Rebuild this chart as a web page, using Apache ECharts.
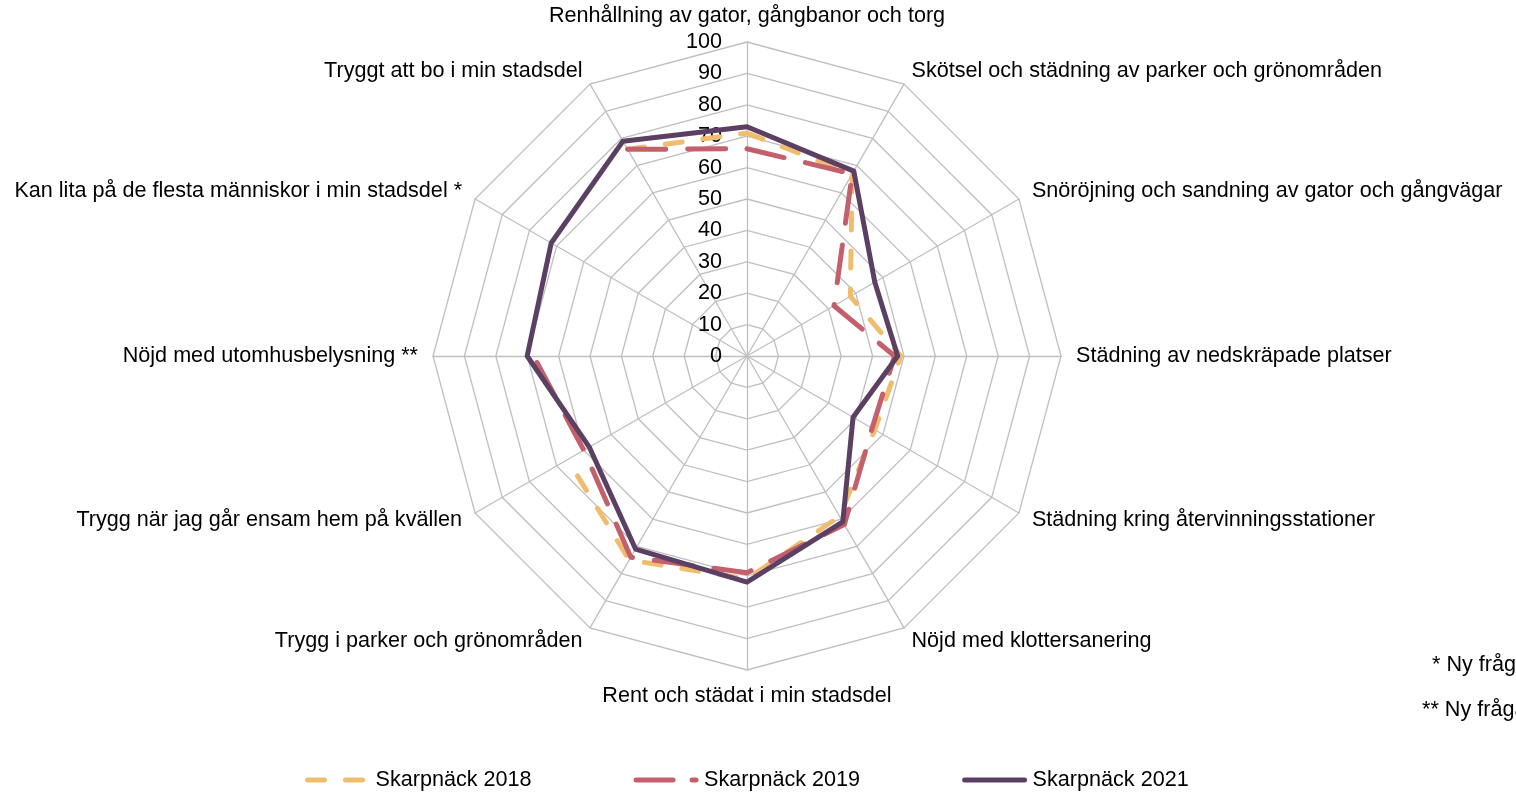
<!DOCTYPE html>
<html>
<head>
<meta charset="utf-8">
<script src="https://cdn.jsdelivr.net/npm/echarts@6/dist/echarts.min.js"></script>
<style>
html,body{margin:0;padding:0;background:#fff;}
#chart{width:1516px;height:792px;}
</style>
</head>
<body>
<div id="chart"></div>
<script>
// Indicators, clockwise from top
const categories = [
  'Renhållning av gator, gångbanor och torg',
  'Skötsel och städning av parker och grönområden',
  'Snöröjning och sandning av gator och gångvägar',
  'Städning av nedskräpade platser',
  'Städning kring återvinningsstationer',
  'Nöjd med klottersanering',
  'Rent och städat i min stadsdel',
  'Trygg i parker och grönområden',
  'Trygg när jag går ensam hem på kvällen',
  'Nöjd med utomhusbelysning **',
  'Kan lita på de flesta människor i min stadsdel *',
  'Tryggt att bo i min stadsdel'
];
const seriesNames = ['Skarpnäck 2018', 'Skarpnäck 2019', 'Skarpnäck 2021'];
const values2018 = [71, 67, 38, 49, 47, 59, 71, 75, 66, null, null, 76];
const values2019 = [66, 67, 32, 47, 46, 62, 69, 74, 60, 68, null, 76];
const values2021 = [73, 68, 47, 48, 39, 61, 72, 71, 58, 70, 72, 79];
const axisMin = 0, axisMax = 100, axisStep = 10;
const notes = ['* Ny fråga 2021', '** Ny fråga 2019'];

const FONT = 'Liberation Sans, Arial, sans-serif';
const FS = 21.6;
const CENTER = [747, 356];
const RADIUS = 314;
const n = categories.length;
const colors = ['#EFBD6D', '#C4606B', '#5C4063'];
const dashes = [[17, 21], [38, 22], 'solid'];
const legendDashes = [[17, 21], [37, 19], 'solid'];
const LW = 5;

// radar draws counter-clockwise: reorder so the grid reads clockwise
const radarIndicators = [categories[0]].concat(categories.slice(1).reverse())
  .map(name => ({ name: name, min: axisMin, max: axisMax }));

function toPolar(vals) {
  const out = vals.map((v, i) => [v === null ? '-' : v, i * 360 / n]);
  out.push([vals[0] === null ? '-' : vals[0], 360]);
  return out;
}

const allValues = [values2018, values2019, values2021];

const chart = echarts.init(document.getElementById('chart'), null, { renderer: 'canvas' });
chart.setOption({
  animation: false,
  backgroundColor: '#ffffff',
  textStyle: { fontFamily: FONT },
  radar: {
    center: CENTER,
    radius: RADIUS,
    startAngle: 90,
    shape: 'polygon',
    splitNumber: (axisMax - axisMin) / axisStep,
    indicator: radarIndicators,
    nameGap: 15,
    axisName: { color: '#000', fontSize: FS, fontFamily: FONT },
    axisLine: { lineStyle: { color: '#BFBFBF', width: 1.3 } },
    splitLine: { lineStyle: { color: '#BFBFBF', width: 1.3 } },
    splitArea: { show: false },
    axisTick: { show: false },
    axisLabel: { show: false }
  },
  polar: { center: CENTER, radius: RADIUS },
  angleAxis: {
    type: 'value', min: 0, max: 360, startAngle: 90, clockwise: true,
    axisLine: { show: false }, axisTick: { show: false },
    axisLabel: { show: false }, splitLine: { show: false }
  },
  radiusAxis: {
    type: 'value', min: axisMin, max: axisMax, interval: axisStep,
    axisLine: { show: false }, axisTick: { show: false },
    splitLine: { show: false },
    axisLabel: { margin: 25, fontSize: FS, color: '#000', fontFamily: FONT }
  },
  legend: {
    left: 300, top: 764,
    itemWidth: 60, itemHeight: 20, itemGap: 102,
    textStyle: { fontSize: FS, color: '#000', fontFamily: FONT, padding: [0, 0, 0, 3] },
    data: seriesNames.map((name, k) => ({
      name: name,
      itemStyle: { opacity: 0 },
      lineStyle: { color: colors[k], width: LW, type: legendDashes[k], cap: 'round' }
    }))
  },
  graphic: [
    { type: 'text', left: 1432, top: 654, style: { text: notes[0], fill: '#000', font: FS + 'px ' + FONT } },
    { type: 'text', left: 1422, top: 699, style: { text: notes[1], fill: '#000', font: FS + 'px ' + FONT } }
  ],
  series: seriesNames.map((name, k) => ({
    name: name, type: 'line', coordinateSystem: 'polar',
    data: toPolar(allValues[k]), showSymbol: false, symbol: 'none', connectNulls: false,
    lineStyle: { color: colors[k], width: LW, type: dashes[k], cap: 'round', join: 'round' },
    itemStyle: { color: colors[k] }, z: 2 + k
  }))
});
</script>
</body>
</html>
